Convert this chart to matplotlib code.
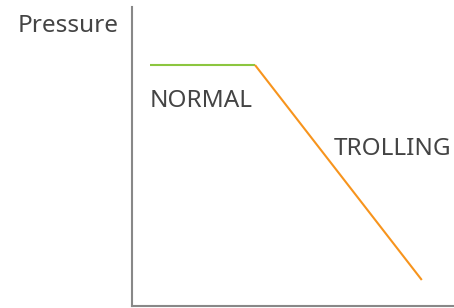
import matplotlib
matplotlib.use('Agg')
import matplotlib.pyplot as plt

# stage lines (x in time units, y in pressure units)
normal_x = [0.56, 3.82]
normal_y = [8.06, 8.06]
trolling_x = [3.82, 9.0]
trolling_y = [8.06, 0.87]

labels = ['NORMAL', 'TROLLING']
label_pos = [(0.56, 6.66), (9.92, 5.05)]
label_ha = ['left', 'right']
ylabel = 'Pressure'

plt.rcParams['font.family'] = ['Noto Sans', 'DejaVu Sans']

fig = plt.figure(figsize=(4.54, 3.08), dpi=100)
ax = fig.add_axes([132/454, 2/308, 322/454, 299/308])
ax.set_xlim(0, 10)
ax.set_ylim(0, 10)

ax.plot(normal_x, normal_y, color='#8cc63f', lw=1.5, solid_capstyle='butt')
ax.plot(trolling_x, trolling_y, color='#f7941d', lw=1.5, solid_capstyle='butt')

for txt, (x, y), ha in zip(labels, label_pos, label_ha):
    ax.text(x, y, txt, fontsize=17.5, color='#444444', va='baseline', ha=ha)
ax.text(-0.43, 9.16, ylabel, fontsize=17.5, color='#444444', va='baseline', ha='right', clip_on=False)

for s in ['top', 'right']:
    ax.spines[s].set_visible(False)
for s in ['left', 'bottom']:
    ax.spines[s].set_color('#888888')
    ax.spines[s].set_linewidth(1.5)
ax.set_xticks([])
ax.set_yticks([])

fig.savefig('out.png', dpi=100)
